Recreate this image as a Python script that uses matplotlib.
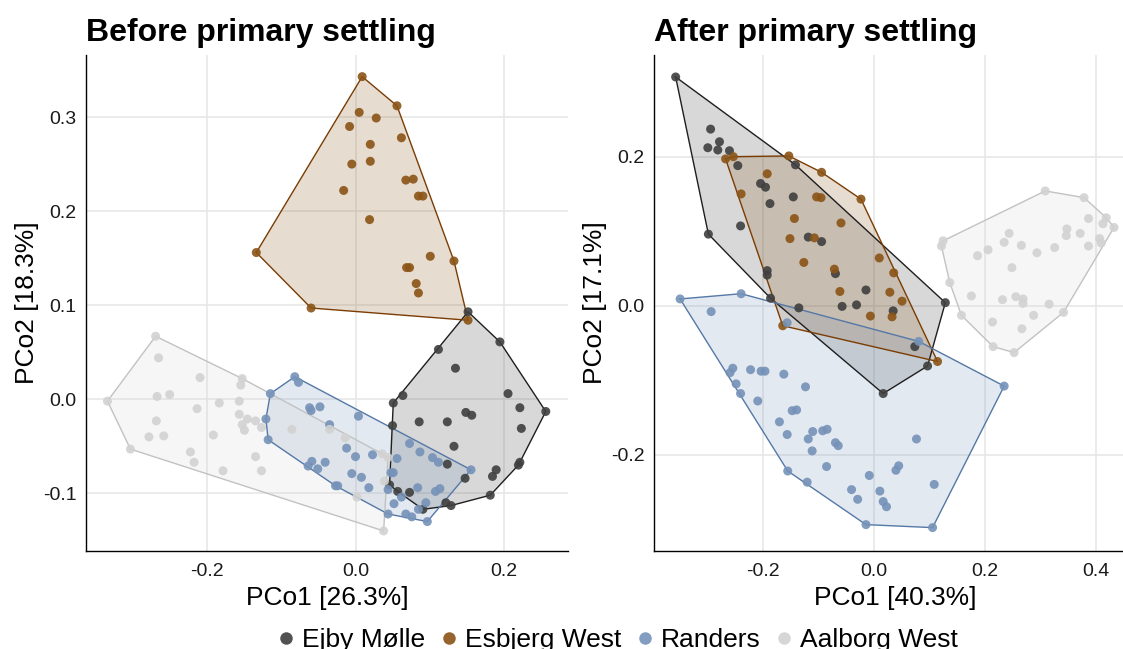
import matplotlib
matplotlib.use("Agg")
import matplotlib.pyplot as plt
from matplotlib.lines import Line2D
import numpy as np

plt.rcParams['font.family'] = ['Liberation Sans', 'DejaVu Sans']
plt.rcParams['axes.unicode_minus'] = False

groups = ["Ejby Mølle", "Esbjerg West", "Randers", "Aalborg West"]
point_colors = ["#3f3f3f", "#8a5416", "#7592b8", "#d2d2d2"]
edge_colors = ["#1e1e1e", "#7a3c02", "#5578a6", "#c2c2c2"]

# ---- Before primary settling ----
before_ejby_x = [0.152, 0.195, 0.112, 0.135, 0.064, 0.051, 0.206, 0.222, 0.257, 0.149, 0.157, 0.086, 0.124, 0.224, 0.050,
                 0.133, 0.124, 0.222, 0.220, 0.190, 0.185, 0.148, 0.046, 0.057, 0.073, 0.182, 0.122, 0.129, 0.091]
before_ejby_y = [0.093, 0.061, 0.053, 0.033, 0.004, -0.004, 0.006, -0.009, -0.013, -0.014, -0.017, -0.024, -0.024, -0.031, -0.028,
                 -0.050, -0.069, -0.067, -0.070, -0.075, -0.082, -0.084, -0.091, -0.098, -0.099, -0.102, -0.110, -0.113, -0.117]

before_esb_x = [0.009, 0.056, 0.005, 0.028, -0.008, 0.062, 0.020, -0.005, 0.020, 0.068, 0.078, -0.016, 0.085, 0.091,
                0.019, -0.134, 0.101, 0.133, 0.069, 0.073, 0.082, 0.085, -0.060, 0.152]
before_esb_y = [0.343, 0.312, 0.305, 0.299, 0.290, 0.278, 0.271, 0.250, 0.253, 0.233, 0.234, 0.222, 0.216, 0.216,
                0.191, 0.156, 0.152, 0.147, 0.140, 0.140, 0.123, 0.113, 0.097, 0.084]

before_ran_x = [-0.082, -0.077, -0.115, -0.062, -0.060, -0.048, 0.004, -0.121, -0.035, -0.118, 0.073, -0.012, 0.087, 0.023,
                0.000, 0.056, 0.104, 0.112, -0.059, -0.041, -0.064, -0.051, 0.156, -0.005, 0.008, 0.048, 0.051, -0.027,
                -0.024, 0.018, 0.044, 0.084, 0.108, 0.114, 0.062, 0.052, 0.095, 0.085, 0.044, 0.068, 0.076, 0.097]
before_ran_y = [0.024, 0.018, 0.006, -0.009, -0.012, -0.008, -0.018, -0.021, -0.027, -0.043, -0.047, -0.052, -0.056, -0.059,
                -0.061, -0.063, -0.062, -0.067, -0.066, -0.067, -0.071, -0.074, -0.075, -0.079, -0.083, -0.078, -0.078, -0.092,
                -0.092, -0.094, -0.096, -0.094, -0.098, -0.095, -0.104, -0.111, -0.110, -0.117, -0.122, -0.122, -0.125, -0.130]

before_aal_x = [-0.270, -0.266, -0.210, -0.153, -0.155, -0.268, -0.251, -0.335, -0.184, -0.157, -0.214, -0.157, -0.269,
                -0.146, -0.135, -0.153, -0.150, -0.127, -0.086, -0.035, -0.279, -0.259, -0.192, -0.014, -0.304, -0.223,
                0.036, 0.044, -0.135, -0.218, -0.179, -0.127, 0.039, 0.002, 0.038]
before_aal_y = [0.067, 0.044, 0.023, 0.022, 0.015, 0.003, 0.005, -0.002, -0.004, -0.002, -0.010, -0.016, -0.023,
                -0.021, -0.023, -0.027, -0.033, -0.030, -0.032, -0.032, -0.040, -0.039, -0.038, -0.041, -0.053, -0.056,
                -0.058, -0.062, -0.061, -0.067, -0.076, -0.076, -0.087, -0.104, -0.140]

# ---- After primary settling ----
after_ejby_x = [-0.357, -0.294, -0.278, -0.299, -0.281, -0.260, -0.245, -0.141, -0.204, -0.195, -0.145, -0.187, -0.240,
                -0.298, -0.118, -0.094, -0.192, -0.192, -0.069, -0.014, 0.129, -0.186, -0.135, -0.057, -0.031, 0.035,
                0.074, 0.097, 0.017]
after_ejby_y = [0.307, 0.237, 0.220, 0.212, 0.209, 0.208, 0.188, 0.189, 0.164, 0.159, 0.146, 0.137, 0.107,
                0.096, 0.092, 0.086, 0.047, 0.041, 0.043, 0.021, 0.004, 0.010, -0.003, -0.001, 0.001, -0.007,
                -0.055, -0.081, -0.118]

after_esb_x = [-0.267, -0.253, -0.153, -0.094, -0.192, -0.023, -0.239, -0.103, -0.095, -0.143, -0.059, -0.151,
               -0.107, -0.126, 0.010, -0.071, 0.036, -0.061, 0.029, 0.051, -0.006, 0.033, -0.164, 0.115]
after_esb_y = [0.197, 0.200, 0.201, 0.179, 0.177, 0.143, 0.150, 0.146, 0.145, 0.117, 0.111, 0.090,
               0.091, 0.058, 0.064, 0.049, 0.044, 0.019, 0.018, 0.006, -0.014, -0.015, -0.027, -0.075]

after_ran_x = [-0.349, -0.239, -0.293, -0.156, 0.081, -0.254, -0.259, -0.222, -0.203, -0.196, -0.162, -0.248, -0.240,
               -0.123, -0.209, -0.147, -0.139, 0.235, -0.170, -0.156, -0.110, -0.092, -0.084, -0.118, -0.111, -0.069,
               -0.064, 0.077, -0.085, -0.155, 0.045, 0.040, -0.008, -0.120, -0.040, -0.029, 0.011, 0.109, 0.017,
               0.023, -0.014, 0.106]
after_ran_y = [0.009, 0.016, -0.008, -0.023, -0.048, -0.084, -0.090, -0.086, -0.088, -0.088, -0.092, -0.105, -0.118,
               -0.109, -0.128, -0.141, -0.140, -0.108, -0.156, -0.173, -0.169, -0.168, -0.166, -0.179, -0.195, -0.184,
               -0.188, -0.179, -0.216, -0.222, -0.215, -0.221, -0.228, -0.237, -0.247, -0.260, -0.249, -0.240, -0.263,
               -0.270, -0.294, -0.298]

after_aal_x = [0.309, 0.379, 0.387, 0.419, 0.433, 0.413, 0.348, 0.347, 0.372, 0.407, 0.410, 0.387, 0.244, 0.235,
               0.266, 0.125, 0.122, 0.206, 0.187, 0.294, 0.326, 0.249, 0.137, 0.176, 0.232, 0.256, 0.269, 0.269,
               0.316, 0.342, 0.288, 0.158, 0.214, 0.267, 0.215, 0.253]
after_aal_y = [0.154, 0.145, 0.117, 0.118, 0.105, 0.110, 0.103, 0.094, 0.097, 0.090, 0.084, 0.080, 0.097, 0.085,
               0.081, 0.087, 0.080, 0.075, 0.067, 0.071, 0.078, 0.051, 0.031, 0.013, 0.008, 0.012, 0.009, 0.003,
               0.002, -0.009, -0.013, -0.013, -0.022, -0.031, -0.055, -0.063]

panels = [
    dict(title="Before primary settling", xlabel="PCo1 [26.3%]", ylabel="PCo2 [18.3%]",
         data=[(before_ejby_x, before_ejby_y), (before_esb_x, before_esb_y),
               (before_ran_x, before_ran_y), (before_aal_x, before_aal_y)],
         xlim=(-0.364, 0.287), ylim=(-0.161, 0.366),
         xticks=[-0.2, 0.0, 0.2], yticks=[-0.1, 0.0, 0.1, 0.2, 0.3]),
    dict(title="After primary settling", xlabel="PCo1 [40.3%]", ylabel="PCo2 [17.1%]",
         data=[(after_ejby_x, after_ejby_y), (after_esb_x, after_esb_y),
               (after_ran_x, after_ran_y), (after_aal_x, after_aal_y)],
         xlim=(-0.396, 0.4726), ylim=(-0.329, 0.3365),
         xticks=[-0.2, 0.0, 0.2, 0.4], yticks=[-0.2, 0.0, 0.2]),
]


def convex_hull(xs, ys):
    pts = sorted(set(zip(xs, ys)))
    if len(pts) < 3:
        return pts

    def cross(o, a, b):
        return (a[0] - o[0]) * (b[1] - o[1]) - (a[1] - o[1]) * (b[0] - o[0])

    lower = []
    for p in pts:
        while len(lower) >= 2 and cross(lower[-2], lower[-1], p) <= 0:
            lower.pop()
        lower.append(p)
    upper = []
    for p in reversed(pts):
        while len(upper) >= 2 and cross(upper[-2], upper[-1], p) <= 0:
            upper.pop()
        upper.append(p)
    return lower[:-1] + upper[:-1]


W, H = 1123, 649
fig = plt.figure(figsize=(W / 100, H / 100), dpi=100)
positions = [(86, 55, 568, 550.7), (654, 55, 1136, 550.7)]

for panel, (l, t, r, b) in zip(panels, positions):
    ax = fig.add_axes([l / W, 1 - b / H, (r - l) / W, (b - t) / H])
    ax.set_xlim(*panel["xlim"])
    ax.set_ylim(*panel["ylim"])
    ax.set_xticks(panel["xticks"])
    ax.set_yticks(panel["yticks"])
    ax.set_xticklabels([f"{v:.1f}" for v in panel["xticks"]])
    ax.set_yticklabels([f"{v:.1f}" for v in panel["yticks"]])
    ax.grid(True, color="#e6e6e6", linewidth=1.1, zorder=0)
    ax.set_axisbelow(True)
    for s in ["top", "right"]:
        ax.spines[s].set_visible(False)
    for s in ["left", "bottom"]:
        ax.spines[s].set_color("black")
        ax.spines[s].set_linewidth(1.0)
    ax.tick_params(length=0, labelsize=14, colors="#1a1a1a", pad=7)
    ax.tick_params(axis="x", pad=9)
    ax.set_xlabel(panel["xlabel"], fontsize=19, labelpad=4)
    ax.set_ylabel(panel["ylabel"], fontsize=19, labelpad=2.5)
    ax.set_title(panel["title"], loc="left", fontsize=23, fontweight="bold", pad=10)

    for (xs, ys), pc, ec in zip(panel["data"], point_colors, edge_colors):
        hull = convex_hull(xs, ys)
        poly = plt.Polygon(hull, closed=True, facecolor=pc, alpha=0.2, edgecolor="none", zorder=2)
        ax.add_patch(poly)
        hx = [p[0] for p in hull] + [hull[0][0]]
        hy = [p[1] for p in hull] + [hull[0][1]]
        ax.plot(hx, hy, color=ec, linewidth=1.0, zorder=3)
    for (xs, ys), pc in zip(panel["data"], point_colors):
        ax.scatter(xs, ys, s=42, color=pc, alpha=0.9, edgecolors="none", zorder=4)

handles = [Line2D([0], [0], marker="o", linestyle="none", markersize=9, markerfacecolor=c,
                  markeredgecolor="none", alpha=0.9) for c in point_colors]
fig.legend(handles, groups, loc="center", bbox_to_anchor=(618 / W, 1 - 640 / H), ncol=4, frameon=False,
           fontsize=19, handlelength=0.6, handletextpad=0.3, columnspacing=0.6, borderpad=0)

fig.savefig("out.png", dpi=100)
